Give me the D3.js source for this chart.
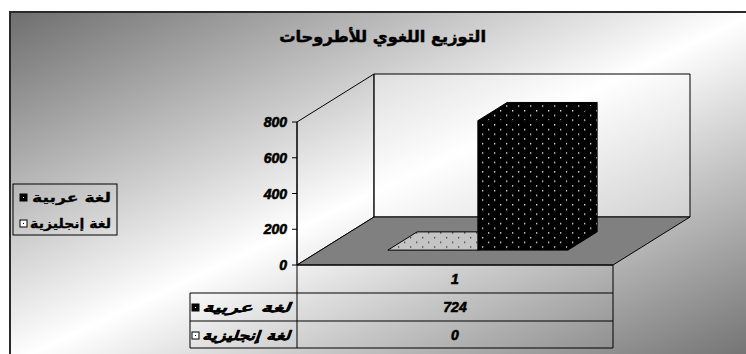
<!DOCTYPE html>
<html><head><meta charset="utf-8">
<script src="https://cdn.jsdelivr.net/npm/d3@7/dist/d3.min.js"></script>
<style>html,body{margin:0;padding:0;background:#fff;overflow:hidden}</style>
</head><body>
<svg id="c" width="746" height="354"></svg>
<script>
const title = "التوزيع اللغوي للأطروحات";
const categories = ["1"];
const seriesNames = ["لغة عربية", "لغة إنجليزية"];
const arabicValues = [724];
const englishValues = [0];
const yTicks = [0, 200, 400, 600, 800];

const svg = d3.select("#c");
const defs = svg.append("defs");
const bg = defs.append("linearGradient").attr("id","bg").attr("x1",0).attr("y1",0).attr("x2",1).attr("y2",1);
bg.append("stop").attr("offset","0%").attr("stop-color","#6e6e6e");
bg.append("stop").attr("offset","50%").attr("stop-color","#ffffff");
bg.append("stop").attr("offset","100%").attr("stop-color","#6e6e6e");

function dotPattern(id, bgc, dotc){
  const p = defs.append("pattern").attr("id",id).attr("patternUnits","userSpaceOnUse")
    .attr("width",12).attr("height",9.4);
  p.append("rect").attr("width",12).attr("height",9.4).attr("fill",bgc);
  p.append("rect").attr("x",2).attr("y",2).attr("width",1.3).attr("height",1.3).attr("fill",dotc);
  p.append("rect").attr("x",8).attr("y",6.7).attr("width",1.3).attr("height",1.3).attr("fill",dotc);
}
dotPattern("pAr","#000","#fff");
dotPattern("pEn","#c4c4c4","#333");

// chart area
svg.append("rect").attr("x",10).attr("y",12).attr("width",748).attr("height",352)
  .attr("fill","url(#bg)").attr("stroke","#2a2a2a").attr("stroke-width",2);

// Arabic text stretched horizontally (without breaking letter joins) to a target width
function arabicText(parent, txt, rightX, baseY, size, targetW, italic, sw){
  const g = parent.append("g");
  const t = g.append("text").attr("x",0).attr("y",0).attr("text-anchor","end")
    .attr("font-family","DejaVu Sans").attr("font-weight","bold").attr("font-size",size)
    .attr("font-style", italic ? "italic" : "normal")
    .attr("stroke","#000").attr("stroke-width",sw).text(txt);
  const w = t.node().getComputedTextLength();
  const sx = targetW / w;
  g.attr("transform",`translate(${rightX},${baseY}) scale(${sx},1)`);
  return g;
}
arabicText(svg, title, 486, 42, 16, 207, false, 0.5);

// scales
const y = d3.scaleLinear().domain([0,800]).range([265,122]);
const x = d3.scaleBand().domain(categories).range([297,613]);
const xs = d3.scaleBand().domain([seriesNames[1], seriesNames[0]]).range([67,247]);
const DX = 77, DY = 48;
const P = (px,py,d)=>[px + d*DX, py - d*DY];
const poly = pts => pts.map(p=>p.join(",")).join(" ");

const x0 = x.range()[0], x1 = x.range()[1];
const yTop = y(800), y0 = y(0);
// walls
svg.append("polygon").attr("points",poly([P(x0,yTop,0),P(x0,yTop,1),P(x0,y0,1),P(x0,y0,0)]))
  .attr("fill","none").attr("stroke","#000").attr("stroke-width",1);
svg.append("polygon").attr("points",poly([P(x0,yTop,1),P(x1,yTop,1),P(x1,y0,1),P(x0,y0,1)]))
  .attr("fill","#fff").attr("fill-opacity",0.35).attr("stroke","#000").attr("stroke-width",1);
// floor
svg.append("polygon").attr("points",poly([P(x0,y0,0),P(x1,y0,0),P(x1,y0,1),P(x0,y0,1)]))
  .attr("fill","#808080").attr("stroke","#000").attr("stroke-width",1);

// axis
svg.append("line").attr("x1",x0).attr("x2",x0).attr("y1",yTop).attr("y2",348).attr("stroke","#000");
const numStyle = s => s.attr("font-family","Liberation Sans").attr("font-weight","bold").attr("font-style","italic")
  .attr("font-size",14).attr("stroke","#000").attr("stroke-width",0.6);
const ax = svg.append("g");
yTicks.forEach(t=>{
  ax.append("line").attr("x1",x0-5).attr("x2",x0).attr("y1",y(t)).attr("y2",y(t)).attr("stroke","#000");
  numStyle(ax.append("text").attr("x",x0-10).attr("y",y(t)+5).attr("text-anchor","end")).text(t);
});

// bars
const d0 = 0.31, d1 = 0.69;
function bar(cat, name, v, fill){
  const bx0 = x(cat) + xs(name), bx1 = bx0 + xs.bandwidth();
  const yv = y(v), yb = y(0);
  const g = svg.append("g");
  g.append("polygon").attr("points",poly([P(bx1,yv,d0),P(bx1,yv,d1),P(bx1,yb,d1),P(bx1,yb,d0)])).attr("fill",fill).attr("stroke","#000");
  g.append("polygon").attr("points",poly([P(bx0,yv,d0),P(bx1,yv,d0),P(bx1,yv,d1),P(bx0,yv,d1)])).attr("fill",fill).attr("stroke","#000");
  if (v > 0) g.append("polygon").attr("points",poly([P(bx0,yv,d0),P(bx1,yv,d0),P(bx1,yb,d0),P(bx0,yb,d0)])).attr("fill",fill).attr("stroke","#000");
}
categories.forEach((c,i)=>{
  bar(c, seriesNames[1], englishValues[i], "url(#pEn)");
  bar(c, seriesNames[0], arabicValues[i], "url(#pAr)");
});

// data table
const rows = [265, 293, 321, 348];
const tb = svg.append("g").attr("stroke","#000").attr("stroke-width",1);
tb.append("line").attr("x1",x0).attr("x2",x1).attr("y1",rows[0]).attr("y2",rows[0]);
tb.append("line").attr("x1",190).attr("x2",x1).attr("y1",rows[1]).attr("y2",rows[1]);
tb.append("line").attr("x1",190).attr("x2",x1).attr("y1",rows[2]).attr("y2",rows[2]);
tb.append("line").attr("x1",190).attr("x2",x1).attr("y1",rows[3]).attr("y2",rows[3]);
tb.append("line").attr("x1",190).attr("x2",190).attr("y1",rows[1]).attr("y2",rows[3]);
tb.append("line").attr("x1",x1).attr("x2",x1).attr("y1",rows[0]).attr("y2",rows[3]);
categories.forEach((c,i)=>{
  const cx = x(c) + x.bandwidth()/2;
  numStyle(svg.append("text").attr("x",cx).attr("y",284).attr("text-anchor","middle")).text(c);
  numStyle(svg.append("text").attr("x",cx).attr("y",312).attr("text-anchor","middle")).text(arabicValues[i]);
  numStyle(svg.append("text").attr("x",cx).attr("y",340).attr("text-anchor","middle")).text(englishValues[i]);
});
function key(g, kx, ky, filled){
  g.append("rect").attr("x",kx).attr("y",ky).attr("width",7).attr("height",7)
    .attr("fill",filled?"#000":"#fff").attr("stroke","#000").attr("stroke-width",1);
  g.append("rect").attr("x",kx+3).attr("y",ky+3).attr("width",1).attr("height",1).attr("fill",filled?"#fff":"#000");
}
arabicText(svg, seriesNames[0], 290, 312, 13, 88, true, 0.3);
key(svg, 192, 304, true);
arabicText(svg, seriesNames[1], 290, 340, 13, 88, true, 0.3);
key(svg, 192, 332, false);

// legend
svg.append("rect").attr("x",13).attr("y",184).attr("width",104).attr("height",51)
  .attr("fill","none").attr("stroke","#000").attr("stroke-width",1);
const lg = svg.append("g");
[[seriesNames[0],true,202,79],[seriesNames[1],false,228,81]].forEach(([n,f,yy,len])=>{
  key(lg, 20, yy-8, f);
  arabicText(lg, n, 111, yy, 13, len, false, 0.3);
});
</script>
</body></html>
